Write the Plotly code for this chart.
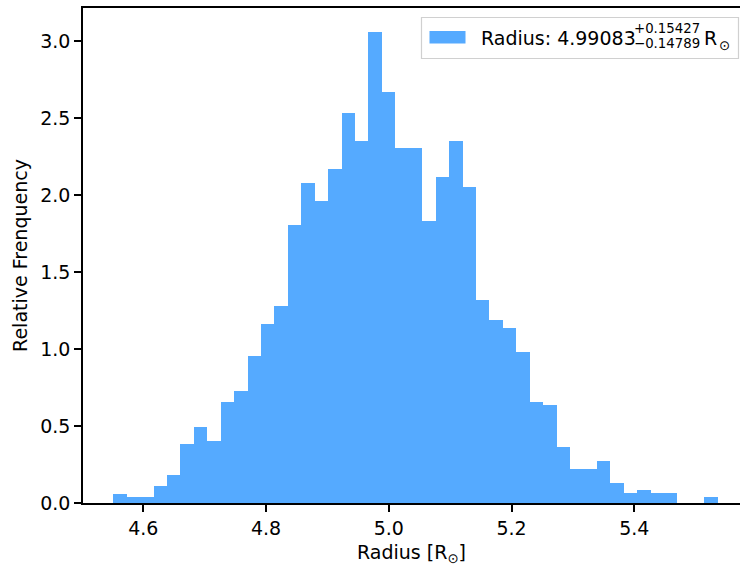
import plotly.graph_objects as go

# ---- data ----
bin_start = 4.5511
bin_width = 0.021887
rel_freq = [0.060, 0.039, 0.039, 0.108, 0.180, 0.383, 0.495, 0.405, 0.658, 0.727,
            0.956, 1.162, 1.277, 1.807, 2.075, 1.960, 2.167, 2.530, 2.350, 3.060,
            2.670, 2.305, 2.305, 1.830, 2.120, 2.350, 2.050, 1.320, 1.186, 1.137,
            0.980, 0.658, 0.636, 0.366, 0.223, 0.223, 0.270, 0.132, 0.062, 0.086,
            0.062, 0.062, 0.0, 0.0, 0.039]
x_ticks = [4.6, 4.8, 5.0, 5.2, 5.4]
x_tick_labels = ["4.6", "4.8", "5.0", "5.2", "5.4"]
y_ticks = [0.0, 0.5, 1.0, 1.5, 2.0, 2.5, 3.0]
y_tick_labels = ["0.0", "0.5", "1.0", "1.5", "2.0", "2.5", "3.0"]
legend_main = "Radius: 4.99083"
legend_up = "+0.15427"
legend_down = "\u22120.14789"
legend_unit = "R"
legend_unit_sub = "\u2299"

centers = [bin_start + (i + 0.5) * bin_width for i in range(len(rel_freq))]

BAR = "#55aaff"
FONT = "DejaVu Sans"
FS = 19
FS_SMALL = 13.3

fig = go.Figure()
fig.add_trace(go.Bar(x=centers, y=rel_freq, width=[bin_width] * len(rel_freq),
                     marker=dict(color=BAR, line=dict(width=0)),
                     showlegend=False, name="Radius", hoverinfo="skip"))

W, H = 740, 569
L, R, T, B = 83, 0, 8, 66
pw, ph = W - L - R, H - T - B


def px(x):
    return (x - L) / pw


def py(y):
    return 1 - (y - T) / ph


# custom legend box (matplotlib-like)
fig.add_shape(type="rect", xref="paper", yref="paper",
              x0=px(421.5), x1=px(738.5), y0=py(58.5), y1=py(17.5),
              line=dict(color="#d0d0d0", width=1.2), fillcolor="rgba(255,255,255,0.8)")
fig.add_shape(type="rect", xref="paper", yref="paper",
              x0=px(429.5), x1=px(465.5), y0=py(43.5), y1=py(31),
              line=dict(width=0), fillcolor=BAR)
fig.add_annotation(xref="paper", yref="paper", x=px(479), y=py(37.5),
                   xanchor="left", yanchor="middle", showarrow=False,
                   text=legend_main, font=dict(family=FONT, size=FS, color="black"))
fig.add_annotation(xref="paper", yref="paper", x=px(632), y=py(28.5),
                   xanchor="left", yanchor="middle", showarrow=False,
                   text=legend_up, font=dict(family=FONT, size=FS_SMALL, color="black"))
fig.add_annotation(xref="paper", yref="paper", x=px(632), y=py(43.5),
                   xanchor="left", yanchor="middle", showarrow=False,
                   text=legend_down, font=dict(family=FONT, size=FS_SMALL, color="black"))
fig.add_annotation(xref="paper", yref="paper", x=px(702), y=py(37.5),
                   xanchor="left", yanchor="middle", showarrow=False,
                   text=legend_unit, font=dict(family=FONT, size=FS, color="black"))
fig.add_annotation(xref="paper", yref="paper", x=px(717), y=py(45),
                   xanchor="left", yanchor="middle", showarrow=False,
                   text=legend_unit_sub, font=dict(family=FONT, size=FS_SMALL, color="black"))

fig.update_layout(
    width=W, height=H,
    margin=dict(l=L, r=R, t=T, b=B, pad=0),
    paper_bgcolor="white", plot_bgcolor="white",
    bargap=0,
    font=dict(family=FONT, size=FS, color="black"),
    xaxis=dict(range=[4.5018, 4.5018 + pw / 613.75],
               tickmode="array", tickvals=x_ticks, ticktext=x_tick_labels,
               ticks="outside", ticklen=7, tickwidth=1.5, tickcolor="black",
               showline=True, linecolor="black", linewidth=1.5, mirror=True,
               showgrid=False, zeroline=False,
               title=dict(text="Radius [R<sub>\u2299</sub>]", standoff=8,
                          font=dict(family=FONT, size=FS))),
    yaxis=dict(range=[0, ph / 154.0],
               tickmode="array", tickvals=y_ticks, ticktext=y_tick_labels,
               ticks="outside", ticklen=7, tickwidth=1.5, tickcolor="black",
               showline=True, linecolor="black", linewidth=1.5, mirror=False,
               showgrid=False, zeroline=False,
               title=dict(text="Relative Frenquency", standoff=8,
                          font=dict(family=FONT, size=FS))),
)

fig.write_html("out.html", config={"displayModeBar": False},
               post_script="document.body.style.margin='0px';")
